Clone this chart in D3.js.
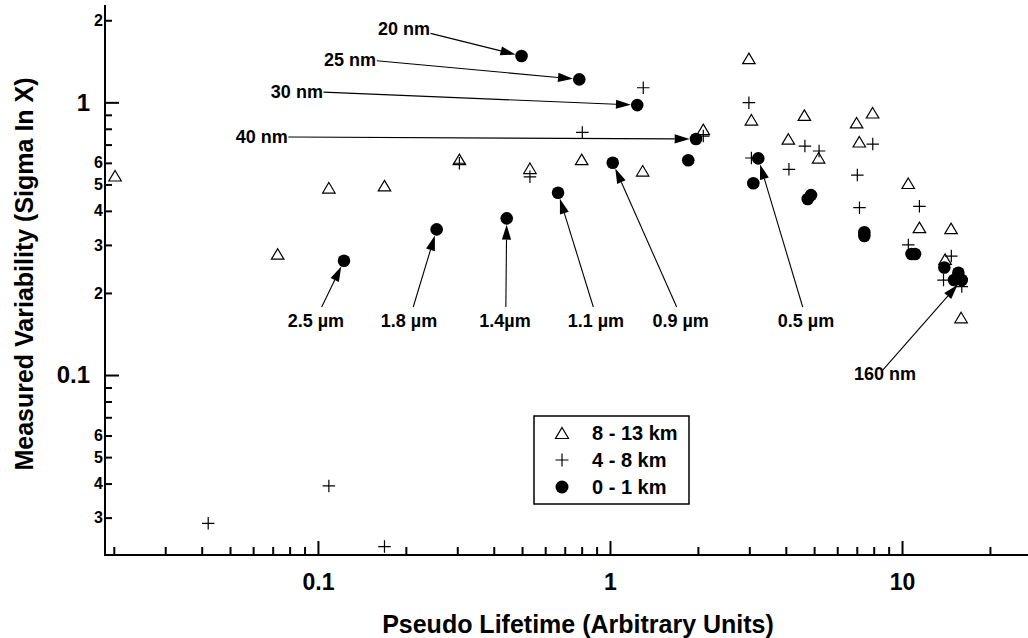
<!DOCTYPE html>
<html><head><meta charset="utf-8">
<script src="https://cdn.jsdelivr.net/npm/d3@7"></script>
<style>
html,body{margin:0;padding:0;background:#fff;}
svg text{font-family:"Liberation Sans",Arial,sans-serif;font-weight:bold;fill:#000;}
</style></head>
<body>
<svg id="chart" width="1028" height="638"></svg>
<script>
// ---- data ----
const xDomain = [0.01866, 27.0];
const yDomain = [0.02188, 2.275];

const seriesNames = ["8 - 13 km", "4 - 8 km", "0 - 1 km"];

// 8 - 13 km (open triangles)
const triX = [0.0202, 0.0728, 0.109, 0.169, 0.305, 0.532, 0.800, 1.294, 2.087, 2.99, 3.05, 4.63, 4.08, 5.18, 6.99, 7.93, 7.14, 10.5, 11.47, 14.72, 14.04, 15.93];
const triY = [0.538, 0.278, 0.486, 0.495, 0.618, 0.573, 0.618, 0.561, 0.796, 1.45, 0.863, 0.898, 0.734, 0.626, 0.842, 0.916, 0.717, 0.505, 0.348, 0.345, 0.266, 0.1625];

// 4 - 8 km (plus)
const plusX = [0.0421, 0.109, 0.169, 0.305, 0.532, 0.804, 1.30, 2.087, 2.99, 3.05, 4.65, 5.20, 4.10, 7.94, 7.03, 7.15, 11.47, 10.51, 14.75, 13.87, 16.02];
const plusY = [0.0286, 0.0392, 0.0235, 0.598, 0.533, 0.776, 1.131, 0.752, 0.997, 0.625, 0.691, 0.663, 0.568, 0.703, 0.541, 0.411, 0.4155, 0.300, 0.273, 0.223, 0.211];

// 0 - 1 km (filled dots)
const dotX = [0.1228, 0.255, 0.443, 0.664, 1.022, 1.854, 1.970, 1.240, 0.785, 0.498, 3.22, 3.096, 4.755, 4.88, 7.43, 7.43, 10.78, 11.08, 13.96, 15.59, 15.07, 16.02];
const dotY = [0.2626, 0.342, 0.3755, 0.466, 0.6006, 0.613, 0.734, 0.977, 1.214, 1.479, 0.623, 0.505, 0.442, 0.457, 0.3337, 0.3234, 0.2778, 0.2778, 0.248, 0.2372, 0.223, 0.223];

// tick values / labels
const xMajorTicks = [0.1, 1, 10];
const xMajorLabels = ["0.1", "1", "10"];
const yMajorTicks = [0.1, 1];
const yMajorLabels = ["0.1", "1"];
const yMinorLabeledTicks = [0.03, 0.04, 0.05, 0.06, 0.2, 0.3, 0.4, 0.5, 0.6, 2];
const yMinorLabels = ["3", "4", "5", "6", "2", "3", "4", "5", "6", "2"];

// annotations: label, text anchor point (data units), line start (data units), target dot index
const annLabels = ["20 nm", "25 nm", "30 nm", "40 nm", "2.5 µm", "1.8 µm", "1.4µm", "1.1 µm", "0.9 µm", "0.5 µm", "160 nm"];
const annTextX = [0.2418, 0.158, 0.104, 0.0789, 0.0984, 0.205, 0.437, 0.895, 1.746, 4.69, 8.745];
const annTextY = [1.868, 1.438, 1.094, 0.746, 0.1578, 0.1578, 0.1578, 0.1578, 0.1578, 0.1578, 0.1008];
const annLineX = [0.243, 0.159, 0.1045, 0.0792, 0.103, 0.212, 0.44, 0.877, 1.692, 4.57, 8.56];
const annLineY = [1.79, 1.42, 1.09, 0.746, 0.1776, 0.1776, 0.1776, 0.1776, 0.1776, 0.1776, 0.1037];
const annTarget = [9, 8, 7, 6, 0, 1, 2, 3, 4, 10, 21];

const xTitle = "Pseudo Lifetime (Arbitrary Units)";
const yTitle = "Measured Variability (Sigma In X)";

// ---- drawing ----
const svg = d3.select("#chart");
const mLeft = 105, mRight = 1028, mTop = 5, mBottom = 555;
const x = d3.scaleLog().domain(xDomain).range([mLeft, mRight]);
const y = d3.scaleLog().domain(yDomain).range([mBottom, mTop]);

function allDecadeTicks(dom) {
  const out = [];
  for (let e = -3; e <= 3; e++) for (let m = 1; m <= 9; m++) {
    const v = m * Math.pow(10, e);
    if (v >= dom[0] && v <= dom[1]) out.push(+v.toPrecision(6));
  }
  return out;
}
const xMinor = allDecadeTicks(xDomain).filter(v => !xMajorTicks.some(t => Math.abs(t - v) / t < 1e-6));
const yMinorUnl = allDecadeTicks(yDomain).filter(v => !yMajorTicks.concat(yMinorLabeledTicks).some(t => Math.abs(t - v) / t < 1e-6));

// X axis
const gx = svg.append("g").attr("transform", `translate(0,${mBottom})`);
gx.append("g").call(d3.axisBottom(x).tickValues(xMinor).tickSize(-8).tickSizeOuter(0).tickFormat(""));
gx.append("g").call(d3.axisBottom(x).tickValues(xMajorTicks).tickSize(-14).tickSizeOuter(0).tickPadding(19)
  .tickFormat((d, i) => xMajorLabels[i]));
gx.selectAll("path.domain").remove();
gx.selectAll("line").attr("stroke", "#000").attr("stroke-width", 2);
gx.selectAll("text").style("font-size", "23px");
svg.append("line").attr("x1", mLeft - 1).attr("x2", mRight).attr("y1", mBottom).attr("y2", mBottom)
  .attr("stroke", "#000").attr("stroke-width", 2);

// Y axis
const gy = svg.append("g").attr("transform", `translate(${mLeft},0)`);
gy.append("g").call(d3.axisLeft(y).tickValues(yMinorUnl).tickSize(-7).tickSizeOuter(0).tickFormat(""));
gy.append("g").attr("class", "minlab").call(d3.axisLeft(y).tickValues(yMinorLabeledTicks).tickSize(-7).tickSizeOuter(0).tickPadding(2)
  .tickFormat((d, i) => yMinorLabels[i]));
gy.append("g").attr("class", "majlab").call(d3.axisLeft(y).tickValues(yMajorTicks).tickSize(-14).tickSizeOuter(0).tickPadding(15)
  .tickFormat((d, i) => yMajorLabels[i]));
gy.selectAll("path.domain").remove();
gy.selectAll("line").attr("stroke", "#000").attr("stroke-width", 2);
gy.selectAll(".minlab text").style("font-size", "16px");
gy.selectAll(".majlab text").style("font-size", "24px");
svg.append("line").attr("x1", mLeft).attr("x2", mLeft).attr("y1", mTop).attr("y2", mBottom + 1)
  .attr("stroke", "#000").attr("stroke-width", 2);

// titles
svg.append("text").attr("x", 578).attr("y", 633).attr("text-anchor", "middle")
  .style("font-size", "25px").text(xTitle);
svg.append("text").attr("transform", "translate(33,274) rotate(-90)").attr("text-anchor", "middle")
  .style("font-size", "25px").text(yTitle);

// symbols
const triPath = (w, h) => `M0,${-h / 2}L${w / 2},${h / 2}L${-w / 2},${h / 2}Z`;
const plusPath = s => `M${-s / 2},0H${s / 2}M0,${-s / 2}V${s / 2}`;

const triData = triX.map((v, i) => [v, triY[i]]);
const plusData = plusX.map((v, i) => [v, plusY[i]]);
const dotData = dotX.map((v, i) => [v, dotY[i]]);

svg.append("g").selectAll("path").data(triData).join("path")
  .attr("transform", d => `translate(${x(d[0])},${y(d[1])})`)
  .attr("d", triPath(12.5, 10.5)).attr("fill", "none").attr("stroke", "#000").attr("stroke-width", 1.2);
svg.append("g").selectAll("path").data(plusData).join("path")
  .attr("transform", d => `translate(${x(d[0])},${y(d[1])})`)
  .attr("d", plusPath(12.5)).attr("fill", "none").attr("stroke", "#000").attr("stroke-width", 1.2);
const R = 6.3;
svg.append("g").selectAll("circle").data(dotData).join("circle")
  .attr("cx", d => x(d[0])).attr("cy", d => y(d[1])).attr("r", R).attr("fill", "#000");

// annotations
const ga = svg.append("g");
annLabels.forEach((lab, i) => {
  const sx = x(annLineX[i]), sy = y(annLineY[i]);
  const t = dotData[annTarget[i]];
  const cx = x(t[0]), cy = y(t[1]);
  const dx = cx - sx, dy = cy - sy, L = Math.hypot(dx, dy);
  const ux = dx / L, uy = dy / L;
  const tipX = cx - ux * R, tipY = cy - uy * R;
  const hl = 15, hw = 4.6;
  const bx = tipX - ux * hl, by = tipY - uy * hl;
  ga.append("line").attr("x1", sx).attr("y1", sy).attr("x2", bx).attr("y2", by)
    .attr("stroke", "#000").attr("stroke-width", 1.1);
  ga.append("path").attr("d", `M${tipX},${tipY}L${bx - uy * hw},${by + ux * hw}L${bx + uy * hw},${by - ux * hw}Z`)
    .attr("fill", "#000");
  const anchor = i < 4 ? "end" : "middle";
  ga.append("text").attr("x", x(annTextX[i])).attr("y", y(annTextY[i])).attr("dy", "0.35em")
    .attr("text-anchor", anchor).style("font-size", "18px").text(lab);
});

// legend
const lg = svg.append("g");
lg.append("rect").attr("x", 534).attr("y", 416).attr("width", 155).attr("height", 88)
  .attr("fill", "#fff").attr("stroke", "#000").attr("stroke-width", 1.5);
const rowY = [433, 460, 487];
lg.append("path").attr("transform", `translate(562,${rowY[0]})`).attr("d", triPath(13, 11))
  .attr("fill", "none").attr("stroke", "#000").attr("stroke-width", 1.2);
lg.append("path").attr("transform", `translate(562,${rowY[1]})`).attr("d", plusPath(13))
  .attr("fill", "none").attr("stroke", "#000").attr("stroke-width", 1.2);
lg.append("circle").attr("cx", 562).attr("cy", rowY[2]).attr("r", 6.5).attr("fill", "#000");
seriesNames.forEach((n, i) => {
  lg.append("text").attr("x", 592).attr("y", rowY[i]).attr("dy", "0.36em").style("font-size", "20px").text(n);
});
</script>
</body></html>
